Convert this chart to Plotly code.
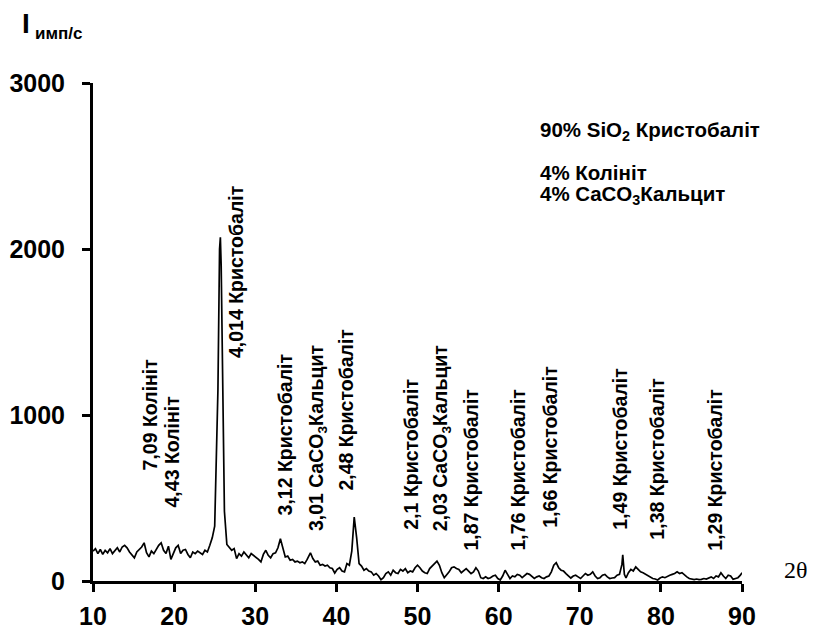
import plotly.graph_objects as go

two_theta = [10.0, 10.3, 10.6, 10.9, 11.2, 11.5, 11.8, 12.1, 12.4, 12.7, 13.0, 13.3, 13.6, 13.9, 14.2, 14.5, 14.8,
             15.1, 15.4, 15.7, 16.0, 16.3, 16.6, 16.9, 17.2, 17.5, 17.8, 18.1, 18.4, 18.7, 19.0, 19.3, 19.6, 19.9,
             20.2, 20.5, 20.8, 21.1, 21.4, 21.7, 22.0, 22.3, 22.6, 22.9, 23.2, 23.5, 23.8, 24.1, 24.4, 24.7, 25.0,
             25.2, 25.4, 25.6, 25.7, 25.8, 26.0, 26.2, 26.5, 26.8, 27.1, 27.4, 27.7, 28.0, 28.3, 28.6, 28.9, 29.2,
             29.5, 29.8, 30.1,
             30.4, 30.7, 31.0, 31.3, 31.6, 31.9, 32.2, 32.5, 32.8, 33.1, 33.4, 33.7, 34.0, 34.3, 34.6, 34.9, 35.2,
             35.5, 35.8, 36.1, 36.4, 36.8, 37.1, 37.4, 37.7, 38.0, 38.3, 38.6, 38.9, 39.2, 39.5, 39.8, 40.1, 40.4,
             40.7, 41.0, 41.3, 41.6, 41.9, 42.2, 42.5, 42.8, 43.1, 43.4, 43.7, 44.0, 44.3, 44.6, 44.9, 45.2, 45.5,
             45.8, 46.1, 46.4, 46.7, 47.0, 47.3, 47.6, 47.9, 48.2, 48.5, 48.8, 49.1, 49.4, 49.7, 50.0, 50.3, 50.6,
             50.9, 51.2, 51.5, 51.8, 52.1, 52.4, 52.7, 53.0, 53.3, 53.6, 53.9, 54.2, 54.5, 54.8, 55.1, 55.4, 55.7,
             56.0, 56.3, 56.6, 56.9, 57.2, 57.5, 57.8, 58.1, 58.4, 58.7, 59.0, 59.3, 59.6, 59.9, 60.2, 60.5, 60.8,
             61.1, 61.4, 61.7, 62.0, 62.3, 62.6, 62.9, 63.2, 63.5, 63.8, 64.1, 64.4, 64.7, 65.0, 65.3, 65.6, 65.9,
             66.2, 66.5, 66.8, 67.1, 67.4, 67.7, 68.0, 68.3, 68.6, 68.9, 69.2, 69.5, 69.8, 70.1, 70.4, 70.7, 71.0,
             71.3, 71.6, 71.9, 72.2, 72.5, 72.8, 73.1, 73.4, 73.7, 74.0, 74.3, 74.6, 74.9, 75.2, 75.3, 75.5, 75.7,
             76.0, 76.3, 76.6, 76.9, 77.2, 77.5, 77.8, 78.1, 78.4, 78.7, 79.0, 79.3, 79.6, 79.9, 80.2, 80.5, 80.8,
             81.1, 81.4, 81.7, 82.0, 82.3, 82.6, 82.9, 83.2, 83.5, 83.8, 84.1, 84.4, 84.7, 85.0, 85.3, 85.6, 85.9,
             86.2, 86.5, 86.8, 87.1, 87.4, 87.7, 88.0, 88.3, 88.6, 88.9, 89.2, 89.5, 89.8, 90.0]

intensity = [180, 195, 165, 190, 160, 185, 170, 195, 165, 180, 200, 175, 205, 215, 200, 175, 160,
             140, 175, 190, 205, 230, 170, 145, 180, 165, 190, 215, 230, 185, 165, 210, 130, 170,
             200, 215, 165, 185, 190, 160, 140, 175, 165, 180, 170, 160, 185, 175, 215, 260, 330,
             700, 1150, 2000, 2070, 1900, 1000, 420, 220, 200, 185, 195, 135, 165, 150, 175, 160, 140,
             165, 155, 145,
             130, 115, 160, 185, 155, 140, 165, 170, 200, 255, 200, 145, 150, 125, 130, 115, 120,
             110, 115, 105, 130, 170, 135, 115, 120, 95, 100, 90, 95, 80, 75, 48, 70, 80,
             60, 55, 105, 95, 180, 385, 260, 105, 90, 65, 75, 60, 55, 35, 45, 30, 8,
             20, 45, 55, 35, 65, 50, 45, 70, 60, 75, 50, 60, 55, 80, 95, 80, 60,
             50, 45, 75, 90, 110, 120, 95, 50, 20, 35, 55, 80, 85, 75, 70, 50, 65,
             75, 60, 45, 55, 80, 60, 20, 15, 25, 15, 20, 30, 35, 15, 6, 30, 65,
             40, 15, 30, 25, 40, 35, 20, 30, 45, 40, 30, 15, 25, 30, 20, 15, 25,
             30, 55, 95, 110, 80, 65, 60, 45, 30, 18, 30, 35, 25, 15, 30, 45, 35,
             40, 55, 30, 15, 20, 35, 40, 25, 15, 18, 20, 35, 40, 100, 157, 40, 18,
             50, 70, 60, 85, 70, 55, 50, 40, 30, 20, 15, 12, 6, 18, 25, 20, 30,
             35, 40, 45, 55, 45, 50, 35, 25, 15, 10, 8, 12, 8, 10, 15, 12, 20,
             25, 15, 30, 25, 50, 30, 15, 35, 30, 10, 15, 20, 35, 50]

x_ticks = [10, 20, 30, 40, 50, 60, 70, 80, 90]
y_ticks = [0, 1000, 2000, 3000]

peak_labels = ["7,09 Колініт", "4,43 Колініт", "4,014 Кристобаліт", "3,12 Кристобаліт",
               "3,01 CaCO<sub>3</sub>Кальцит", "2,48 Кристобаліт", "2,1 Кристобаліт",
               "2,03 CaCO<sub>3</sub>Кальцит", "1,87 Кристобаліт", "1,76 Кристобаліт",
               "1,66 Кристобаліт", "1,49 Кристобаліт", "1,38 Кристобаліт", "1,29 Кристобаліт"]
label_2theta = [17.03, 19.74, 27.63, 33.67, 37.62, 41.07, 49.09, 52.91, 56.61, 62.40, 66.23, 74.86, 79.54, 86.70]
label_base = [651, 428, 1331, 380, 289, 530, 295, 289, 169, 169, 307, 295, 235, 169]

composition = ["90% SiO<sub>2</sub> Кристобаліт", "4% Колініт", "4% CaCO<sub>3</sub>Кальцит"]

SANS = "Liberation Sans, Arial, sans-serif"

fig = go.Figure()
fig.add_trace(go.Scatter(x=two_theta, y=intensity, mode="lines",
                         line=dict(color="black", width=1.7), showlegend=False, hoverinfo="skip"))

for txt, xv, yv in zip(peak_labels, label_2theta, label_base):
    fig.add_annotation(x=xv, y=yv, xref="x", yref="y", text=txt, textangle=-90,
                       showarrow=False, xanchor="center", yanchor="bottom",
                       font=dict(family=SANS, size=19.5, color="black", weight="bold"))

comp_y = [0.904, 0.821, 0.775]
for txt, yv in zip(composition, comp_y):
    fig.add_annotation(x=0.685, y=yv, xref="paper", yref="paper", text=txt, showarrow=False,
                       xanchor="left", yanchor="middle",
                       font=dict(family=SANS, size=20.5, color="black", weight="bold"))

fig.add_annotation(x=-0.112, y=1.12, xref="paper", yref="paper", text="I", showarrow=False,
                   xanchor="left", yanchor="middle",
                   font=dict(family=SANS, size=28, color="black", weight="bold"))
fig.add_annotation(x=-0.092, y=1.10, xref="paper", yref="paper", text="имп/с", showarrow=False,
                   xanchor="left", yanchor="middle",
                   font=dict(family=SANS, size=17, color="black", weight="bold"))
fig.add_annotation(x=1.061, y=0.022, xref="paper", yref="paper", text="2θ", showarrow=False,
                   xanchor="left", yanchor="middle",
                   font=dict(family="Liberation Serif, Times New Roman, serif", size=24, color="black"))

fig.update_layout(
    width=807, height=631,
    margin=dict(l=85, r=73, t=75, b=58),
    plot_bgcolor="white", paper_bgcolor="white",
    xaxis=dict(range=[10, 90], tickvals=x_ticks, showline=True, linecolor="black", linewidth=3,
               ticks="outside", ticklen=8, tickwidth=3, tickcolor="black", showgrid=False,
               zeroline=False, ticklabelstandoff=3, automargin=False,
               tickfont=dict(family=SANS, size=25, color="black", weight="bold")),
    yaxis=dict(range=[0, 3000], tickvals=y_ticks, showline=True, linecolor="black", linewidth=3,
               ticks="outside", ticklen=8, tickwidth=3, tickcolor="black", showgrid=False,
               zeroline=False, ticklabelstandoff=12, automargin=False,
               tickfont=dict(family=SANS, size=25, color="black", weight="bold")),
)

fig.write_html("out.html")
